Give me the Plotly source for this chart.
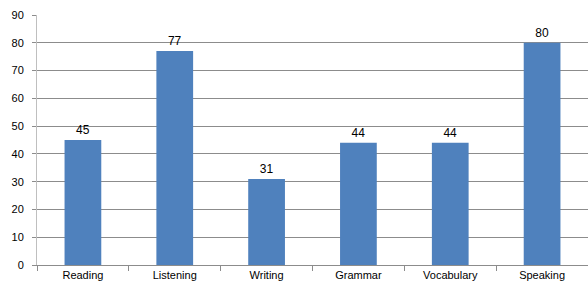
import plotly.graph_objects as go

categories = ["Reading", "Listening", "Writing", "Grammar", "Vocabulary", "Speaking"]
values = [45, 77, 31, 44, 44, 80]
y_ticks = [0, 10, 20, 30, 40, 50, 60, 70, 80, 90]

fig = go.Figure()
fig.add_trace(go.Bar(
    x=categories, y=values,
    marker=dict(color="#4F81BD", line=dict(width=0)),
    text=[str(v) for v in values], textposition="outside",
    textfont=dict(family="Liberation Sans, Arial", size=12, color="#000000"),
    cliponaxis=False,
))
fig.update_layout(
    width=588, height=291,
    margin=dict(l=37, r=0, t=15, b=26),
    paper_bgcolor="white", plot_bgcolor="white",
    bargap=0.6, showlegend=False,
    font=dict(family="Liberation Sans, Arial", size=11, color="#000000"),
)
fig.update_yaxes(
    range=[0, 90], tickvals=y_ticks, showgrid=True, gridcolor="#8c8c8c", gridwidth=1,
    showline=True, linecolor="#bfbfbf", ticks="outside", ticklen=4, tickcolor="#8c8c8c",
    zeroline=False, ticklabelstandoff=6, automargin=False,
)
fig.update_xaxes(
    showline=True, linecolor="#8c8c8c", ticks="outside", tickson="boundaries",
    ticklen=5, tickcolor="#8c8c8c", showgrid=False, automargin=False,
)
fig.write_html("out.html", config={"displayModeBar": False},
               post_script="document.body.style.margin='0';")
